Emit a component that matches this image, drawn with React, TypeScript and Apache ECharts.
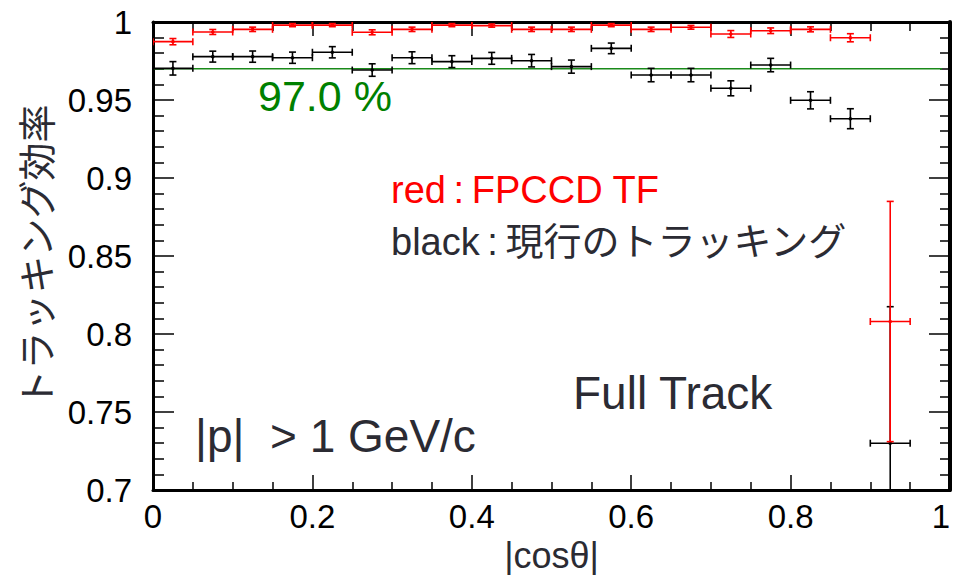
import { useEffect, useRef } from "react";
import * as echarts from "echarts";

// |cosθ| bins (width 0.05), centres
const binCenters = [
  0.025, 0.075, 0.125, 0.175, 0.225, 0.275, 0.325, 0.375, 0.425, 0.475,
  0.525, 0.575, 0.625, 0.675, 0.725, 0.775, 0.825, 0.875, 0.925,
];
const binHalfWidth = 0.025;

// FPCCD track finder efficiency and its uncertainty
const fpccdEff = [
  0.9874, 0.9936, 0.9953, 0.998, 0.998, 0.9934, 0.9953, 0.998, 0.9977, 0.9953,
  0.9953, 0.998, 0.9953, 0.9966, 0.9923, 0.9944, 0.9953, 0.9899, 0.808,
];
const fpccdErr = [
  0.002, 0.0016, 0.0014, 0.001, 0.001, 0.0016, 0.0014, 0.001, 0.001, 0.0014,
  0.0014, 0.001, 0.0014, 0.0012, 0.0022, 0.0018, 0.0016, 0.0026, 0.077,
];

// current tracking efficiency and its uncertainty
const currentEff = [
  0.9703, 0.9778, 0.9778, 0.9771, 0.9806, 0.9692, 0.9771, 0.9746, 0.9767, 0.9752,
  0.9714, 0.9831, 0.966, 0.966, 0.9575, 0.9724, 0.9498, 0.938, 0.730,
];
const currentErr = [
  0.0043, 0.0035, 0.0036, 0.0036, 0.0036, 0.004, 0.0038, 0.0038, 0.0038, 0.004,
  0.0042, 0.0034, 0.0043, 0.0043, 0.0048, 0.0043, 0.0055, 0.0064, 0.0875,
];

// horizontal reference level
const referenceLevel = 0.97;
const referenceSpan = [0, 0.99];

const X_MIN = 0;
const X_MAX = 1;
const Y_MIN = 0.7;
const Y_MAX = 1;

const FONT = '"Liberation Sans", Arial, "Noto Sans CJK JP", sans-serif';
const TEXT_DARK = "#2b2b33";

function errorBars(color: string, lineWidth: number, capHalf: number) {
  return (_params: any, api: any) => {
    const x = api.value(0);
    const y = api.value(1);
    const ex = api.value(2);
    const ey = api.value(3);
    const c = api.coord([x, y]);
    const left = api.coord([x - ex, y])[0];
    const right = api.coord([x + ex, y])[0];
    const lo = y - ey;
    const hi = y + ey;
    const top = api.coord([x, Math.min(hi, Y_MAX)])[1];
    const bottom = api.coord([x, Math.max(lo, Y_MIN)])[1];
    const style = { stroke: color, lineWidth };
    const children: any[] = [
      { type: "line", shape: { x1: left, y1: c[1], x2: right, y2: c[1] }, style },
      { type: "line", shape: { x1: left, y1: c[1] - capHalf, x2: left, y2: c[1] + capHalf }, style },
      { type: "line", shape: { x1: right, y1: c[1] - capHalf, x2: right, y2: c[1] + capHalf }, style },
      { type: "line", shape: { x1: c[0], y1: top, x2: c[0], y2: bottom }, style },
    ];
    if (hi <= Y_MAX) {
      children.push({ type: "line", shape: { x1: c[0] - capHalf, y1: top, x2: c[0] + capHalf, y2: top }, style });
    }
    if (lo >= Y_MIN) {
      children.push({ type: "line", shape: { x1: c[0] - capHalf, y1: bottom, x2: c[0] + capHalf, y2: bottom }, style });
    }
    children.push({ type: "circle", shape: { cx: c[0], cy: c[1], r: 1.8 }, style: { fill: color } });
    return { type: "group", children };
  };
}

export default function App() {
  const ref = useRef<HTMLDivElement>(null);

  useEffect(() => {
    if (!ref.current) return;
    const chart = echarts.init(ref.current, null, { renderer: "svg" });

    const frameLine = (w: number) => ({ show: true, onZero: false, lineStyle: { color: "#000", width: w } });

    const option: any = {
      animation: false,
      backgroundColor: "#fff",
      grid: { left: 153, right: 7, top: 22, bottom: 85, containLabel: false, outerBoundsMode: "none" },
      xAxis: [
        {
          type: "value",
          min: X_MIN,
          max: X_MAX,
          interval: 0.2,
          position: "bottom",
          axisLine: frameLine(3),
          axisTick: { show: true, inside: true, length: 15, lineStyle: { color: "#000", width: 1.5 } },
          minorTick: { show: true, splitNumber: 4, length: 8, lineStyle: { color: "#000", width: 1.5 } },
          splitLine: { show: false },
          axisLabel: { color: "#000", fontSize: 33, fontFamily: FONT, margin: 10, alignMaxLabel: "right" },
          name: "|cosθ|",
          nameLocation: "middle",
          nameGap: 31,
          nameTextStyle: { color: TEXT_DARK, fontSize: 36, lineHeight: 36, fontFamily: FONT },
        },
        {
          type: "value",
          min: X_MIN,
          max: X_MAX,
          interval: 0.2,
          position: "top",
          axisLine: frameLine(3),
          axisTick: { show: true, inside: true, length: 14, lineStyle: { color: "#000", width: 1.5 } },
          minorTick: { show: true, splitNumber: 4, length: 9, lineStyle: { color: "#000", width: 1.5 } },
          splitLine: { show: false },
          axisLabel: { show: false },
        },
      ],
      yAxis: [
        {
          type: "value",
          min: Y_MIN,
          max: Y_MAX,
          interval: 0.05,
          position: "left",
          axisLine: frameLine(3),
          axisTick: { show: true, inside: true, length: 21, lineStyle: { color: "#000", width: 1.5 } },
          minorTick: { show: true, splitNumber: 5, length: 11, lineStyle: { color: "#000", width: 1.5 } },
          splitLine: { show: false },
          axisLabel: { color: "#000", fontSize: 33, fontFamily: FONT, margin: 21 },
          name: "トラッキング効率",
          nameLocation: "middle",
          nameRotate: 90,
          nameGap: 92,
          nameTextStyle: { color: TEXT_DARK, fontSize: 38, fontFamily: FONT },
        },
        {
          type: "value",
          min: Y_MIN,
          max: Y_MAX,
          interval: 0.05,
          position: "right",
          axisLine: frameLine(4),
          axisTick: { show: true, inside: true, length: 21, lineStyle: { color: "#000", width: 1.5 } },
          minorTick: { show: true, splitNumber: 5, length: 10, lineStyle: { color: "#000", width: 1.5 } },
          splitLine: { show: false },
          axisLabel: { show: false },
        },
      ],
      series: [
        {
          name: "reference",
          type: "line",
          xAxisIndex: 0,
          yAxisIndex: 0,
          data: referenceSpan.map((x) => [x, referenceLevel]),
          symbol: "none",
          lineStyle: { color: "#1a8a1a", width: 1.5 },
          z: 1,
        },
        {
          name: "current",
          type: "custom",
          xAxisIndex: 0,
          yAxisIndex: 0,
          clip: true,
          encode: { x: 0, y: 1 },
          data: binCenters.map((c, i) => [c, currentEff[i], binHalfWidth, currentErr[i]]),
          renderItem: errorBars("#000000", 1.6, 3.5),
          z: 2,
        },
        {
          name: "FPCCD TF",
          type: "custom",
          xAxisIndex: 0,
          yAxisIndex: 0,
          clip: true,
          encode: { x: 0, y: 1 },
          data: binCenters.map((c, i) => [c, fpccdEff[i], binHalfWidth, fpccdErr[i]]),
          renderItem: errorBars("#ff0000", 1.6, 3.5),
          z: 3,
        },
      ],
      graphic: [
        {
          type: "text",
          x: 258,
          y: 96,
          style: { text: "97.0 %", fill: "#008000", font: `43px ${FONT}`, textAlign: "left", textVerticalAlign: "middle" },
        },
        {
          type: "text",
          x: 391,
          y: 190,
          style: { text: "red\u2009:\u2009FPCCD TF", fill: "#ff0000", font: `38px ${FONT}`, textAlign: "left", textVerticalAlign: "middle" },
        },
        {
          type: "text",
          x: 391,
          y: 242,
          style: { text: "black\u2009:\u2009現行のトラッキング", fill: TEXT_DARK, font: `38px ${FONT}`, textAlign: "left", textVerticalAlign: "middle" },
        },
        {
          type: "text",
          x: 573,
          y: 393,
          style: { text: "Full Track", fill: TEXT_DARK, font: `46px ${FONT}`, textAlign: "left", textVerticalAlign: "middle" },
        },
        {
          type: "text",
          x: 195,
          y: 436,
          style: { text: "|p|  > 1 GeV/c", fill: TEXT_DARK, font: `46px ${FONT}`, textAlign: "left", textVerticalAlign: "middle" },
        },
      ],
    };

    chart.setOption(option);
    return () => chart.dispose();
  }, []);

  return (
    <div
      ref={ref}
      style={{ position: "fixed", left: 0, top: 0, width: 957, height: 575, background: "#fff" }}
    />
  );
}
